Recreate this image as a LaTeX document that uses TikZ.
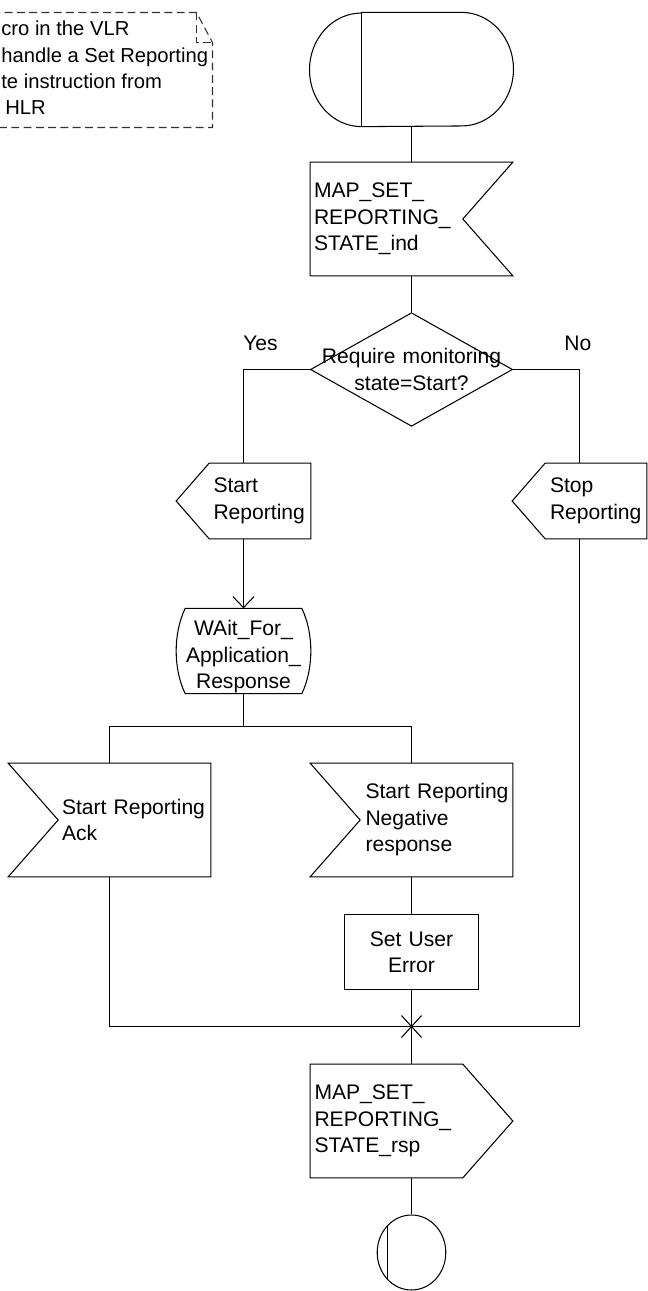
\documentclass[tikz,border=0pt]{standalone}
\usepackage{fontspec}
\setmainfont{Liberation Sans}
\usetikzlibrary{shapes.geometric, arrows.meta, positioning, calc}
\tikzset{
	sdl/.style      ={line width=0.6pt, draw=black},
	notedash/.style ={line width=0.6pt, draw=black!80, dash pattern=on 4.5pt off 2.5pt},
	sigbox/.style   ={rectangle, inner sep=0pt, minimum width=4.04cm, minimum height=2.26cm, text width=4.04cm, align=left},
	smallbox/.style ={rectangle, inner sep=0pt, minimum width=2.68cm, minimum height=1.5cm, text width=2.68cm, align=center},
	question/.style ={rectangle, inner sep=0pt, minimum width=4.02cm, minimum height=2.25cm, text width=4.02cm, align=center},
	textin/.style   ={execute at begin node={\leftskip=#1\relax}},
	flow/.style     ={sdl, -{Straight Barb[length=6.3pt, width=12pt]}},
}
\begin{document}
\begin{tikzpicture}[x=0.02cm, y=-0.02cm, font={\fontsize{12}{15.1}\selectfont}]
	\useasboundingbox (0,0) rectangle (647,1291);
	% comment box (cut at the left edge)
	\draw[notedash] (-20,12.5) -- (196.5,12.5) -- (212.5,42.5) -- (212.5,127.5) -- (-20,127.5);
	\draw[notedash] (196.5,12.5) -- (196.5,42.5) -- (212.5,42.5);
	\node[anchor=base west, align=left, inner sep=0pt, font={\fontsize{11.5}{14.9}\selectfont}] (note) at (1,114.5) {cro in the VLR\\handle a Set Reporting\\te instruction from\\\hspace*{0.08cm}HLR};
	% symbols
	\node[rectangle, inner sep=0pt, minimum width=4.08cm, minimum height=2.272cm] (start) at (411.5,69.5) {};
	\node[sigbox, textin=0.07cm] (ind) at (411.5,219) {MAP\_SET\_\\REPORTING\_\\STATE\_ind};
	\node[question] (dec) at (411.5,369.5) {Require monitoring\\state=Start?};
	\node[anchor=base west, inner sep=0pt] (yes) at (243,350) {Yes};
	\node[anchor=base west, inner sep=0pt] (no) at (564,350) {No};
	\node[smallbox, align=left, textin=0.74cm] (startrep) at (243.5,501) {Start\\Reporting};
	\node[smallbox, align=left, textin=0.75cm] (stoprep) at (579.5,501) {Stop\\Reporting};
	\node[smallbox, text height=15.4pt] (wait) at (243.5,651) {WAit\_For\_\\Application\_\\Response};
	\node[sigbox, textin=1.07cm] (ack) at (109.5,820) {Start Reporting\\Ack};
	\node[sigbox, textin=1.1cm] (neg) at (411.5,820) {Start Reporting\\Negative\\response};
	\node[smallbox, draw, line width=0.6pt] (sue) at (411.5,952) {Set User\\Error};
	\node[sigbox, textin=0.08cm] (rsp) at (411.5,1121) {MAP\_SET\_\\REPORTING\_\\STATE\_rsp};
	\node[ellipse, draw, line width=0.6pt, inner sep=0pt, minimum width=1.372cm, minimum height=1.5cm] (finish) at (411.5,1252.5) {};
	\coordinate (fork) at (243.5,726.5);
	\coordinate (join) at (411.5,1026.5);
	% outlines
	\draw[sdl] ([shift={(-50,0)}]start.north) -- ([shift={(50,0)}]start.north) arc[start angle=-90, end angle=90, x radius=52, y radius=56.8] -- ([shift={(-50,0)}]start.south) arc[start angle=90, end angle=270, x radius=52, y radius=56.8] -- cycle;
	\draw[sdl] ([shift={(-50,0)}]start.north) -- ([shift={(-50,0)}]start.south);
	\draw[sdl] (ind.north west) -- (ind.north east) -- ([shift={(-50,0)}]ind.east) -- (ind.south east) -- (ind.south west) -- cycle;
	\draw[sdl] (dec.north) -- (dec.east) -- (dec.south) -- (dec.west) -- cycle;
	\foreach \n in {startrep,stoprep}
		\draw[sdl] ([shift={(33,0)}]\n.north west) -- (\n.north east) -- (\n.south east) -- ([shift={(33,0)}]\n.south west) -- (\n.west) -- cycle;
	\draw[sdl] ([shift={(9,0)}]wait.north west) -- ([shift={(-9,0)}]wait.north east) .. controls +(12,25) and +(12,-25) .. ([shift={(-9,0)}]wait.south east) -- ([shift={(9,0)}]wait.south west) .. controls +(-12,-25) and +(-12,25) .. ([shift={(9,0)}]wait.north west) -- cycle;
	\foreach \n in {ack,neg}
		\draw[sdl] (\n.north west) -- (\n.north east) -- (\n.south east) -- (\n.south west) -- ([shift={(50,0)}]\n.west) -- cycle;
	\draw[sdl] (rsp.north west) -- ([shift={(-50,0)}]rsp.north east) -- (rsp.east) -- ([shift={(-50,0)}]rsp.south east) -- (rsp.south west) -- cycle;
	\draw[sdl] ([shift={(-24,-26.8)}]finish.center) -- ([shift={(-24,26.8)}]finish.center);
	% connectors
	\draw[sdl] (start.south) -- (ind.north);
	\draw[sdl] (ind.south) -- (dec.north);
	\draw[sdl] (dec.west) -| (startrep.north);
	\draw[sdl] (dec.east) -| (stoprep.north);
	\draw[flow] (startrep.south) -- (wait.north);
	\draw[sdl] (wait.south) -- (fork);
	\draw[sdl] (fork) -| (ack.north);
	\draw[sdl] (fork) -| (neg.north);
	\draw[sdl] (neg.south) -- (sue.north);
	\draw[sdl] (sue.south) -- (join);
	\draw[sdl] (ack.south) |- (join);
	\draw[sdl] (stoprep.south) |- (join);
	\draw[sdl] (join) -- (rsp.north);
	\draw[sdl] (rsp.south) -- (finish.north);
	% merge mark
	\draw[sdl] ([shift={(-10,-11)}]join) -- ([shift={(10,11)}]join) ([shift={(10,-11)}]join) -- ([shift={(-10,11)}]join);
	\fill (join) circle[radius=0.9pt];
\end{tikzpicture}
\end{document}
